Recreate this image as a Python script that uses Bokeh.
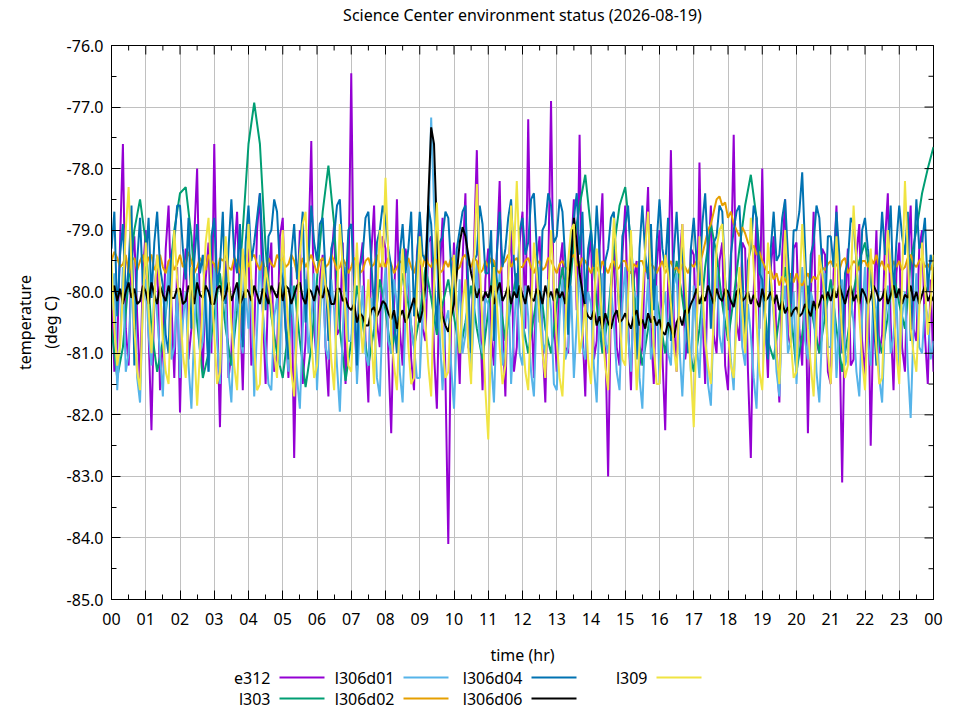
from bokeh.plotting import figure
from bokeh.models import (
    ColumnDataSource,
    Range1d,
    FixedTicker,
    SingleIntervalTicker,
    NumeralTickFormatter,
)
from bokeh.layouts import column
from bokeh.core.properties import value
from bokeh.embed import file_html
from bokeh.resources import INLINE
import numpy as np

FONT = "Noto Sans"
TITLE = "Science Center environment status (2026-08-19)"

# --- readings, 00:00 .. 24:00, evenly sampled (5 min, l303 every 10 min) ---
e312 = [
    -79.8, -81.3, -80.9, -79.2, -77.6, -80.6, -81.2, -79.5, -79.1, -80.4, -81.5, -79.7,
    -79.0, -80.7, -82.25, -80.1, -79.4, -81.6, -80.8, -79.3, -78.6, -80.2, -81.4, -79.6,
    -81.96, -80.0, -79.3, -81.1, -80.6, -79.1, -78.0, -80.5, -81.3, -79.8, -79.2, -81.0,
    -77.6, -80.3, -82.2, -79.9, -79.5, -81.4, -81.0, -79.4, -78.7, -80.2, -81.6, -79.6,
    -79.3, -81.2, -80.7, -79.0, -78.4, -80.3, -81.5, -79.7, -79.2, -81.3, -81.0, -79.1,
    -78.8, -80.5, -81.4, -79.6, -82.7, -80.2, -79.0, -81.5, -80.8, -79.3, -77.55, -80.6,
    -81.2, -79.8, -79.4, -80.9, -81.7, -79.5, -78.9, -80.7, -80.6, -79.2, -81.5, -79.9,
    -76.45, -80.4, -81.3, -79.6, -79.2, -80.8, -81.8, -79.4, -78.6, -80.5, -80.9, -79.1,
    -79.3, -81.0, -82.3, -80.2, -78.5, -80.6, -81.2, -79.3, -79.6, -81.1, -81.6, -79.4,
    -78.9, -80.6, -80.8, -79.2, -79.1, -81.0, -81.9, -79.7, -78.8, -81.4, -84.1, -80.3,
    -79.2, -80.4, -81.5, -79.5, -78.4, -80.9, -81.0, -79.3, -77.7, -80.2, -81.6, -79.8,
    -79.3, -80.7, -81.2, -79.4, -78.2, -80.5, -81.7, -79.6, -79.0, -81.3, -80.9, -79.2,
    -78.7, -80.6, -77.2, -80.1, -81.4, -79.5, -79.1, -80.8, -81.8, -79.7, -76.9, -80.4,
    -81.3, -79.6, -79.2, -80.9, -81.0, -79.4, -78.5, -80.3, -77.45, -80.6, -81.7, -79.5,
    -79.1, -81.1, -80.8, -79.3, -78.4, -80.7, -83.0, -80.1, -79.3, -80.9, -81.2, -79.4,
    -78.6, -80.5, -81.6, -79.8, -79.5, -81.2, -80.9, -79.3, -78.3, -80.6, -81.5, -79.6,
    -79.0, -81.0, -82.25, -79.9, -77.7, -80.4, -81.3, -79.5, -78.9, -81.1, -80.7, -79.3,
    -79.4, -80.8, -77.9, -80.3, -81.5, -79.6, -78.6, -80.7, -81.0, -79.5, -79.2, -81.2,
    -81.6, -79.7, -77.45, -80.5, -80.8, -79.2, -79.3, -81.3, -82.7, -80.0, -78.8, -80.6,
    -78.0, -80.4, -81.4, -79.6, -79.1, -80.9, -81.8, -79.4, -78.5, -80.7, -80.9, -79.3,
    -79.2, -80.6, -81.2, -79.5, -82.3, -80.1, -78.7, -80.8, -81.0, -79.3, -79.4, -81.3,
    -81.5, -79.7, -78.6, -80.5, -83.1, -80.2, -79.3, -81.2, -81.1, -79.4, -78.9, -80.8,
    -81.4, -79.6, -82.5, -80.3, -79.0, -81.0, -80.7, -79.2, -78.4, -80.5, -81.6, -79.7,
    -79.2, -80.9, -81.3, -79.5, -78.6, -80.6, -80.8, -79.3, -79.0, -80.7, -81.5, -79.8,
    -81.3,
]

l303 = [
    -80.6, -81.4, -80.9, -79.8, -79.0, -78.5,
    -79.2, -80.6, -81.3, -80.8, -79.9, -79.0,
    -78.4, -78.3, -79.1, -80.5, -81.4, -81.0,
    -80.4, -79.7, -80.6, -81.2, -80.3, -79.0,
    -77.6, -76.93, -77.6, -79.3, -80.4, -81.0,
    -81.4, -80.6, -79.9, -80.8, -81.55, -80.9,
    -79.8, -78.7, -77.95, -78.9, -80.6, -81.45,
    -80.8, -79.9, -80.5, -81.2, -80.6, -79.8,
    -80.3, -81.0, -80.5, -79.7, -80.2, -80.9,
    -80.4, -79.6, -80.1, -80.7, -80.2, -79.8,
    -80.4, -81.0, -80.5, -79.9, -80.6, -81.1,
    -80.3, -79.5, -80.1, -80.8, -80.2, -79.7,
    -80.5, -81.0, -80.4, -79.8, -80.6, -81.0,
    -80.2, -79.6, -80.3, -79.2, -78.6, -78.1,
    -79.0, -80.2, -81.0, -80.4, -79.3, -78.6,
    -78.3, -79.2, -80.5, -81.2, -80.6, -79.8,
    -80.4, -81.0, -80.3, -79.5, -80.1, -80.8,
    -81.3, -80.6, -79.6, -78.9, -79.4, -80.2,
    -80.8, -80.1, -79.3, -78.6, -78.1, -78.8,
    -79.9, -80.8, -81.1, -80.4, -79.6, -80.3,
    -81.3, -80.7, -79.9, -80.5, -81.0, -80.4,
    -79.8, -80.6, -81.3, -80.7, -80.0, -79.5,
    -79.2, -79.8, -80.6, -81.0, -80.4, -79.7,
    -80.2, -80.6, -79.5, -79.0, -78.4, -78.0,
    -77.65,
]

l306d01 = [
    -80.3, -79.7, -81.6, -80.8, -79.6, -81.3, -81.0, -79.9, -80.1, -81.4, -81.8, -80.2,
    -79.8, -80.7, -81.2, -79.9, -80.4, -81.0, -81.7, -80.3, -79.5, -81.1, -80.9, -80.0,
    -81.4, -80.5, -80.0, -81.2, -81.9, -80.6, -79.7, -81.0, -80.8, -79.9, -81.3, -80.4,
    -79.6, -80.8, -81.5, -80.1, -80.2, -81.3, -81.8, -80.5, -79.9, -80.7, -81.0, -80.0,
    -80.6, -79.8, -81.7, -80.6, -79.4, -80.3, -80.9, -81.5, -81.6, -80.4, -80.1, -81.2,
    -79.5, -80.6, -81.3, -79.9, -80.7, -81.4, -81.9, -80.6, -79.8, -81.0, -80.5, -79.7,
    -81.6, -80.5, -79.7, -80.9, -81.1, -79.8, -80.3, -81.2, -81.95, -80.7, -79.6, -80.8,
    -80.8, -79.9, -81.5, -80.6, -79.9, -81.0, -81.2, -80.1, -80.4, -81.4, -81.7, -80.3,
    -79.6, -80.8, -81.0, -79.8, -80.2, -81.3, -81.8, -80.4, -79.5, -80.6, -80.9, -81.4,
    -81.4, -80.3, -80.1, -79.2, -77.17, -78.6, -79.4, -80.7, -81.6, -80.5, -80.3, -81.2,
    -81.9, -80.6, -79.8, -81.0, -80.7, -79.9, -81.3, -80.4, -79.5, -80.8, -81.0, -80.1,
    -80.2, -81.1, -81.8, -80.3, -79.7, -81.2, -80.9, -79.8, -81.5, -80.6, -79.9, -81.0,
    -81.2, -79.9, -80.4, -81.3, -81.7, -80.2, -79.6, -80.8, -81.0, -79.8, -80.3, -81.5,
    -81.6, -80.4, -79.8, -81.1, -80.9, -79.9, -81.4, -80.5, -79.5, -80.9, -81.1, -80.0,
    -80.2, -81.2, -81.8, -80.3, -79.7, -80.8, -81.0, -79.9, -80.5, -81.3, -81.6, -80.2,
    -79.6, -80.7, -81.3, -80.0, -80.1, -81.4, -81.9, -80.5, -79.8, -81.1, -80.8, -79.9,
    -81.5, -80.3, -80.0, -81.0, -81.2, -79.9, -79.7, -80.9, -81.7, -80.6, -80.4, -81.3,
    -79.9, -80.8, -81.4, -80.2, -80.6, -81.5, -81.85, -80.4, -79.6, -80.7, -81.0, -80.1,
    -80.3, -81.1, -81.6, -80.0, -79.8, -80.9, -81.2, -80.2, -80.7, -81.4, -81.9, -80.5,
    -79.5, -80.6, -81.0, -79.8, -80.4, -81.3, -81.7, -80.3, -79.9, -81.0, -80.8, -80.0,
    -81.5, -80.4, -79.6, -80.8, -81.1, -80.0, -80.2, -81.3, -81.8, -80.6, -79.7, -80.9,
    -80.9, -79.9, -81.4, -80.5, -79.8, -81.2, -81.0, -80.1, -80.5, -81.3, -81.7, -80.4,
    -79.6, -80.8, -81.2, -80.0, -80.3, -81.4, -81.8, -80.5, -79.9, -81.0, -80.7, -80.1,
    -81.3, -80.4, -80.0, -81.2, -82.05, -80.6, -79.7, -80.9, -81.0, -80.2, -80.4, -81.1,
    -80.8,
]

l306d02 = [
    -79.5, -79.35, -79.45, -79.6, -79.55, -79.4, -79.7, -79.5, -79.45, -79.65, -79.5, -79.4,
    -79.6, -79.45, -79.4, -79.65, -79.55, -79.4, -79.6, -79.7, -79.5, -79.45, -79.65, -79.55,
    -79.4, -79.6, -79.55, -79.35, -79.5, -79.7, -79.6, -79.45, -79.55, -79.65, -79.4, -79.5,
    -79.55, -79.7, -79.45, -79.5, -79.4, -79.6, -79.65, -79.45, -79.5, -79.7, -79.55, -79.4,
    -79.6, -79.45, -79.4, -79.55, -79.65, -79.5, -79.7, -79.45, -79.55, -79.6, -79.4, -79.5,
    -79.45, -79.6, -79.55, -79.4, -79.5, -79.7, -79.65, -79.45, -79.6, -79.5, -79.4, -79.55,
    -79.7, -79.5, -79.45, -79.6, -79.55, -79.4, -79.5, -79.65, -79.6, -79.45, -79.55, -79.7,
    -79.6, -79.45, -79.5, -79.7, -79.65, -79.5, -79.45, -79.6, -79.55, -79.4, -79.6, -79.5,
    -79.6, -79.45, -79.55, -79.7, -79.6, -79.5, -79.55, -79.65, -79.45, -79.6, -79.7, -79.5,
    -79.5, -79.6, -79.4, -79.55, -79.6, -79.45, -79.5, -79.7, -79.65, -79.5, -79.6, -79.45,
    -79.5, -79.65, -79.6, -79.45, -79.4, -79.55, -79.6, -79.45, -79.5, -79.7, -79.65, -79.5,
    -79.6, -79.45, -79.5, -79.65, -79.7, -79.55, -79.5, -79.4, -79.6, -79.5, -79.45, -79.6,
    -79.6, -79.5, -79.45, -79.6, -79.7, -79.55, -79.5, -79.65, -79.6, -79.45, -79.5, -79.6,
    -79.7, -79.55, -79.5, -79.6, -79.65, -79.45, -79.4, -79.55, -79.6, -79.45, -79.5, -79.6,
    -79.7, -79.55, -79.6, -79.7, -79.5, -79.6, -79.7, -79.55, -79.5, -79.65, -79.6, -79.5,
    -79.5, -79.65, -79.7, -79.55, -79.6, -79.5, -79.5, -79.65, -79.7, -79.55, -79.6, -79.7,
    -79.6, -79.5, -79.7, -79.6, -79.5, -79.65, -79.6, -79.7, -79.55, -79.6, -79.7, -79.55,
    -79.6, -79.5, -79.55, -79.4, -79.2, -79.0, -78.9, -78.7, -78.5, -78.45, -78.6, -78.55,
    -78.8, -78.7, -78.9, -79.0, -79.1, -78.95, -79.05, -79.2, -79.3, -79.25, -79.4, -79.35,
    -79.5, -79.6, -79.7, -79.65, -79.8, -79.7, -79.9, -79.75, -79.8, -79.9, -79.7, -79.85,
    -79.7, -79.85, -79.9, -79.8, -79.7, -79.85, -79.75, -79.8, -79.7, -79.6, -79.65, -79.55,
    -79.5, -79.6, -79.55, -79.65, -79.5, -79.45, -79.7, -79.6, -79.5, -79.55, -79.65, -79.5,
    -79.5, -79.6, -79.45, -79.55, -79.4, -79.6, -79.5, -79.65, -79.55, -79.7, -79.5, -79.6,
    -79.5, -79.65, -79.6, -79.45, -79.4, -79.55, -79.6, -79.5, -79.45, -79.6, -79.55, -79.65,
    -79.5,
]

l306d04 = [
    -79.3, -78.7, -80.4, -79.4, -78.9, -80.1, -79.6, -78.6, -81.2, -79.5, -78.8, -79.9,
    -79.5, -78.8, -80.1, -79.2, -78.7, -79.6, -79.9, -80.7, -81.0, -79.4, -79.2, -78.6,
    -78.6, -79.3, -79.8, -78.8, -80.6, -79.5, -78.9, -79.7, -79.4, -80.3, -81.3, -79.1,
    -78.8, -79.9, -79.6, -78.7, -80.2, -79.3, -78.5, -79.4, -79.7, -78.9, -80.9, -79.2,
    -78.6, -79.5, -79.2, -78.8, -78.4, -79.3, -80.3, -79.1, -79.0, -78.5, -78.7, -79.6,
    -79.8, -80.6, -81.1, -79.4, -78.9, -79.8, -79.3, -78.7, -80.5, -79.5, -78.6, -79.2,
    -79.5, -78.9, -78.8, -79.7, -80.8, -79.3, -79.1, -78.6, -78.5, -79.4, -80.0, -79.0,
    -78.9, -79.8, -81.2, -79.6, -79.4, -78.8, -78.7, -79.5, -80.3, -79.2, -79.0, -78.6,
    -78.8, -79.3, -79.6, -80.5, -81.0, -79.4, -78.9, -79.7, -79.3, -78.7, -80.4, -79.5,
    -78.7, -79.4, -79.5, -78.6, -78.9, -79.8, -80.6, -79.2, -79.1, -78.7, -78.8, -79.6,
    -80.2, -79.3, -79.0, -78.7, -78.6, -79.9, -81.0, -79.5, -79.4, -78.6, -78.9, -79.7,
    -79.7, -79.0, -80.8, -79.4, -78.7, -79.6, -79.3, -78.8, -78.5, -79.5, -80.1, -79.0,
    -78.8, -79.4, -79.2, -78.5, -78.4, -79.3, -80.5, -79.0, -78.9, -78.4, -78.6, -79.2,
    -79.1, -78.5, -78.7, -79.5, -80.7, -79.2, -78.8, -78.4, -79.4, -78.7, -80.2, -79.3,
    -79.0, -79.6, -78.6, -79.4, -80.9, -79.5, -79.3, -78.8, -78.7, -79.7, -80.4, -79.1,
    -78.9, -78.6, -79.5, -80.2, -81.1, -79.3, -78.6, -79.4, -79.8, -78.9, -80.3, -79.2,
    -78.5, -79.3, -79.6, -78.8, -80.8, -79.4, -78.7, -79.6, -79.2, -80.1, -81.0, -79.3,
    -78.8, -79.5, -79.9, -78.9, -78.4, -79.4, -80.6, -79.2, -79.1, -78.6, -78.7, -79.8,
    -80.3, -79.4, -79.0, -78.7, -78.6, -79.6, -80.9, -79.5, -79.3, -78.6, -78.8, -79.7,
    -79.8, -80.5, -81.1, -79.3, -78.7, -79.5, -79.4, -78.8, -78.5, -79.4, -80.2, -79.0,
    -79.0, -78.7, -78.06, -79.3, -80.6, -79.4, -79.2, -78.6, -78.8, -79.6, -80.4, -79.1,
    -79.1, -79.6, -78.7, -79.4, -81.0, -79.7, -79.5, -78.8, -78.9, -79.5, -80.3, -79.0,
    -78.8, -79.3, -79.6, -80.4, -81.2, -79.5, -78.7, -79.4, -79.3, -78.6, -80.1, -79.2,
    -78.6, -79.1, -79.4, -78.7, -80.8, -79.6, -78.5, -79.3, -79.2, -78.8, -80.0, -79.4,
    -79.6,
]

l306d06 = [
    -80.1, -79.9, -80.15, -79.95, -80.2, -80.0, -79.85, -80.1, -79.95, -80.2, -80.15, -79.9,
    -80.0, -80.2, -79.85, -80.05, -80.2, -79.9, -80.05, -80.15, -79.9, -80.1, -80.1, -79.95,
    -79.95, -80.2, -80.15, -79.9, -80.0, -80.2, -79.85, -80.05, -80.1, -79.9, -80.0, -80.2,
    -80.2, -79.95, -79.9, -80.15, -80.05, -79.85, -80.15, -80.0, -79.85, -80.2, -80.1, -79.95,
    -80.0, -80.15, -79.9, -80.05, -80.2, -79.95, -80.05, -80.2, -79.9, -80.0, -80.1, -79.85,
    -80.15, -79.9, -79.95, -80.2, -80.05, -79.9, -79.85, -80.1, -80.2, -79.95, -80.0, -80.15,
    -79.9, -80.05, -80.1, -79.9, -80.0, -80.2, -80.2, -79.95, -79.95, -80.15, -80.1, -80.25,
    -80.3, -80.2, -80.5, -80.35, -80.4, -80.55, -80.55, -80.3, -80.25, -80.4, -80.3, -80.15,
    -80.2, -80.35, -80.45, -80.3, -80.6, -80.4, -80.3, -80.5, -80.4, -80.25, -80.1, -80.3,
    -80.5, -80.3, -79.9, -78.5, -77.33, -77.6, -79.0, -80.1, -80.4, -80.55, -80.65, -80.4,
    -80.2, -79.7, -79.2, -78.95, -79.1, -79.4, -79.7, -79.9, -80.1, -79.95, -80.15, -80.0,
    -80.1, -79.9, -80.2, -80.0, -79.85, -80.15, -80.05, -79.9, -80.2, -80.0, -80.1, -79.9,
    -80.05, -80.2, -79.9, -80.1, -80.15, -79.95, -80.0, -80.2, -79.9, -80.1, -80.0, -80.15,
    -79.95, -80.1, -80.0, -80.2, -79.9, -79.5, -78.8, -79.2, -79.7, -80.0, -80.3, -80.4,
    -80.45, -80.3, -80.55, -80.4, -80.6, -80.35, -80.5, -80.6, -80.4, -80.3, -80.5, -80.45,
    -80.35, -80.5, -80.6, -80.4, -80.3, -80.55, -80.45, -80.6, -80.35, -80.5, -80.4, -80.55,
    -80.45, -80.65, -80.7, -80.5, -80.6, -80.75, -80.5, -80.4, -80.55, -80.3, -80.35, -80.2,
    -80.1, -79.95, -80.2, -80.05, -80.15, -79.9, -80.05, -80.2, -79.95, -80.1, -80.15, -79.95,
    -80.0, -80.15, -80.25, -80.0, -79.95, -80.15, -80.1, -80.0, -80.2, -80.05, -80.15, -80.25,
    -79.95, -80.15, -80.1, -80.0, -80.2, -80.05, -80.3, -80.15, -80.35, -80.25, -80.4, -80.3,
    -80.25, -80.4, -80.35, -80.2, -80.3, -80.4, -80.15, -80.3, -80.2, -80.05, -80.15, -80.0,
    -80.15, -79.95, -80.1, -79.9, -80.05, -80.2, -80.0, -79.9, -80.15, -80.05, -80.2, -79.95,
    -80.05, -80.2, -80.1, -79.9, -80.0, -80.15, -80.1, -79.95, -80.2, -80.05, -79.9, -80.1,
    -79.95, -80.2, -80.05, -80.1, -79.9, -80.15, -80.0, -80.2, -80.05, -79.9, -80.15, -80.05,
    -80.15,
]

l309 = [
    -79.5, -80.6, -81.2, -80.9, -80.0, -79.0, -78.3, -79.6, -80.6, -81.3, -81.6, -80.2,
    -79.2, -80.3, -81.0, -80.1, -79.4, -79.9, -80.8, -81.3, -81.5, -80.0, -79.0, -79.8,
    -80.2, -81.0, -81.4, -80.4, -79.6, -80.9, -81.85, -81.0, -80.1, -79.2, -78.8, -79.9,
    -80.7, -81.5, -81.3, -80.0, -79.1, -79.8, -80.5, -81.2, -81.6, -80.3, -79.3, -80.1,
    -78.9, -79.8, -80.9, -81.6, -81.5, -80.4, -79.6, -79.9, -80.2, -81.0, -81.4, -80.1,
    -79.0, -79.9, -80.6, -81.3, -81.7, -80.5, -79.4, -78.9, -78.7, -79.8, -80.8, -81.4,
    -81.2, -80.3, -79.5, -79.9, -80.3, -81.1, -81.6, -80.2, -78.9, -79.6, -80.4, -81.2,
    -81.3, -80.1, -79.2, -80.3, -81.0, -80.4, -79.8, -80.7, -81.5, -80.2, -79.0, -79.6,
    -78.15, -79.4, -80.7, -81.2, -81.6, -80.4, -79.3, -80.1, -80.9, -81.5, -81.4, -80.0,
    -79.1, -79.8, -80.5, -81.2, -81.7, -79.9, -78.55, -79.7, -80.8, -81.4, -81.3, -80.2,
    -79.4, -80.3, -81.0, -80.2, -79.8, -80.9, -81.5, -79.6, -78.25, -79.5, -80.6, -81.6,
    -82.4, -80.8, -79.6, -80.2, -80.9, -81.5, -81.2, -79.8, -78.6, -79.4, -78.2, -79.5,
    -80.7, -81.3, -81.6, -80.3, -79.2, -79.7, -80.4, -81.0, -81.4, -80.1, -79.0, -79.9,
    -80.8, -81.4, -81.7, -80.6, -79.5, -79.0, -78.9, -80.0, -81.0, -80.7, -80.2, -81.1,
    -81.5, -80.4, -79.3, -79.8, -80.6, -81.2, -81.6, -80.0, -78.8, -79.5, -80.4, -81.1,
    -81.2, -80.1, -79.0, -80.3, -81.6, -80.9, -80.1, -79.3, -78.7, -79.9, -80.9, -81.5,
    -81.5, -80.5, -79.4, -79.7, -80.2, -80.9, -81.3, -80.1, -78.9, -79.8, -80.6, -81.3,
    -82.2, -80.6, -79.1, -79.9, -80.8, -81.2, -81.5, -80.4, -79.3, -79.0, -78.9, -79.8,
    -80.7, -81.2, -81.4, -80.5, -79.6, -80.3, -81.0, -79.9, -78.8, -79.6, -80.5, -81.3,
    -81.6, -80.4, -79.2, -79.8, -80.3, -81.0, -81.5, -80.2, -79.0, -79.9, -80.8, -81.4,
    -81.3, -80.0, -78.9, -79.7, -80.6, -81.2, -81.7, -80.5, -79.4, -79.7, -80.1, -81.0,
    -81.5, -80.3, -79.1, -79.9, -80.7, -81.4, -81.2, -79.9, -78.6, -79.5, -80.4, -81.1,
    -81.6, -80.4, -79.3, -80.1, -80.9, -81.5, -81.4, -80.1, -79.0, -79.6, -80.2, -81.0,
    -81.5, -79.8, -78.2, -79.4, -80.6, -81.0, -81.3, -80.3, -79.2, -79.9, -80.7, -80.2,
    -79.4,
]

sensors = ["e312", "l303", "l306d01", "l306d02", "l306d04", "l306d06", "l309"]
readings = [e312, l303, l306d01, l306d02, l306d04, l306d06, l309]
colors = ["#9400d3", "#009e73", "#56b4e9", "#e69f00", "#0072b2", "#000000", "#f0e442"]

hours = list(range(25))
hour_labels = [f"{h % 24:02d}" for h in hours]
temp_ticks = list(range(-85, -75))

FRAME_W, FRAME_H = 822, 554
LEFT, RIGHT = 111, 19
TOP_PAD = 12
X0, X1 = 0, 24
Y0, Y1 = -85, -76


def strip(height):
    """A bare figure used only to hold text above/below the plot."""
    f = figure(
        width=LEFT + FRAME_W + RIGHT,
        height=height,
        frame_width=FRAME_W,
        frame_height=height,
        min_border_left=LEFT,
        min_border_right=RIGHT,
        min_border_top=0,
        min_border_bottom=0,
        x_range=Range1d(LEFT, LEFT + FRAME_W),
        y_range=Range1d(height, 0),
        output_backend="svg",
        toolbar_location=None,
    )
    f.axis.visible = False
    f.grid.visible = False
    f.outline_line_color = None
    return f


# --- title strip ---
head = strip(45 - TOP_PAD)
head.text(
    x=[LEFT + FRAME_W / 2], y=[14], text=[TITLE],
    text_align="center", text_baseline="middle",
    text_font=value(FONT), text_font_size="16px", text_color="#000000",
)

p = figure(
    width=LEFT + FRAME_W + RIGHT,
    height=TOP_PAD + FRAME_H + 69,
    frame_width=FRAME_W,
    frame_height=FRAME_H,
    min_border_left=LEFT,
    min_border_right=RIGHT,
    min_border_top=TOP_PAD,
    min_border_bottom=69,
    x_range=Range1d(X0, X1),
    y_range=Range1d(Y0, Y1),
    output_backend="svg",
    toolbar_location=None,
)

p.outline_line_color = "#000000"
p.outline_line_width = 1
p.background_fill_color = "white"
p.border_fill_color = "white"

p.grid.grid_line_color = "#c0c0c0"
p.grid.grid_line_width = 1

# --- axes, gnuplot style: ticks pointing in ---
xticker = FixedTicker(ticks=hours, minor_ticks=[h + 0.5 for h in hours[:-1]])
yticker = SingleIntervalTicker(interval=1, num_minor_ticks=2)
p.xgrid.ticker = xticker
p.ygrid.ticker = yticker

bottom = p.below[0]
left = p.left[0]
bottom.ticker = xticker
bottom.major_label_overrides = {h: lab for h, lab in zip(hours, hour_labels)}
left.ticker = yticker
left.formatter = NumeralTickFormatter(format="0.0")
bottom.axis_label = "time (hr)"
left.axis_label = "temperature\n(deg C)"

for ax in (bottom, left):
    ax.axis_line_color = "#000000"
    ax.major_tick_in = 9
    ax.major_tick_out = 0
    ax.minor_tick_in = 5
    ax.minor_tick_out = 0
    ax.major_tick_line_color = "#000000"
    ax.minor_tick_line_color = "#000000"
    ax.major_label_text_font = FONT
    ax.major_label_text_font_size = "16px"
    ax.major_label_text_color = "#000000"
    ax.axis_label_text_font = FONT
    ax.axis_label_text_font_style = "normal"
    ax.axis_label_text_font_size = "16px"
    ax.axis_label_text_color = "#000000"

bottom.major_label_standoff = 13
bottom.axis_label_standoff = 16
left.major_label_standoff = 8
left.axis_label_standoff = 2
left.axis_label_text_line_height = 1.15

for name, vals, c in zip(sensors, readings, colors):
    t = np.linspace(X0, X1, len(vals))
    src = ColumnDataSource(dict(t=t, temp=vals))
    p.line("t", "temp", source=src, line_color=c, line_width=2)

# mirrored ticks on top and right edges (lengths in px -> data units)
dx = (X1 - X0) / FRAME_W
dy = (Y1 - Y0) / FRAME_H
half_hours = [h + 0.5 for h in hours[:-1]]
half_temps = [v + 0.5 for v in temp_ticks[:-1]]
p.segment(x0=hours, y0=[Y1] * len(hours), x1=hours, y1=[Y1 - 9 * dy] * len(hours),
          line_color="#000000", line_width=1, level="overlay")
p.segment(x0=half_hours, y0=[Y1] * len(half_hours), x1=half_hours,
          y1=[Y1 - 5 * dy] * len(half_hours),
          line_color="#000000", line_width=1, level="overlay")
p.segment(x0=[X1] * len(temp_ticks), y0=temp_ticks, x1=[X1 - 9 * dx] * len(temp_ticks),
          y1=temp_ticks, line_color="#000000", line_width=1, level="overlay")
p.segment(x0=[X1] * len(half_temps), y0=half_temps, x1=[X1 - 5 * dx] * len(half_temps),
          y1=half_temps, line_color="#000000", line_width=1, level="overlay")

# --- legend strip, gnuplot style: label then sample line ---
leg = strip(44)

col_right = [270, 394, 522, 647]
row_y = [9, 30]
lx, ly, lt, sx0, sx1, sc = [], [], [], [], [], []
for i, (name, c) in enumerate(zip(sensors, colors)):
    cx = col_right[i // 2]
    lx.append(cx)
    ly.append(row_y[i % 2])
    lt.append(name)
    sx0.append(cx + 9)
    sx1.append(cx + 54)
    sc.append(c)

leg.text(
    x=lx, y=ly, text=lt,
    text_align="right", text_baseline="middle",
    text_font=value(FONT), text_font_size="16px", text_color="#000000",
)
leg.segment(x0=sx0, y0=ly, x1=sx1, y1=ly, line_color=sc, line_width=2)

layout = column(head, p, leg, spacing=0)

open("out.html", "w").write(file_html(layout, INLINE))
